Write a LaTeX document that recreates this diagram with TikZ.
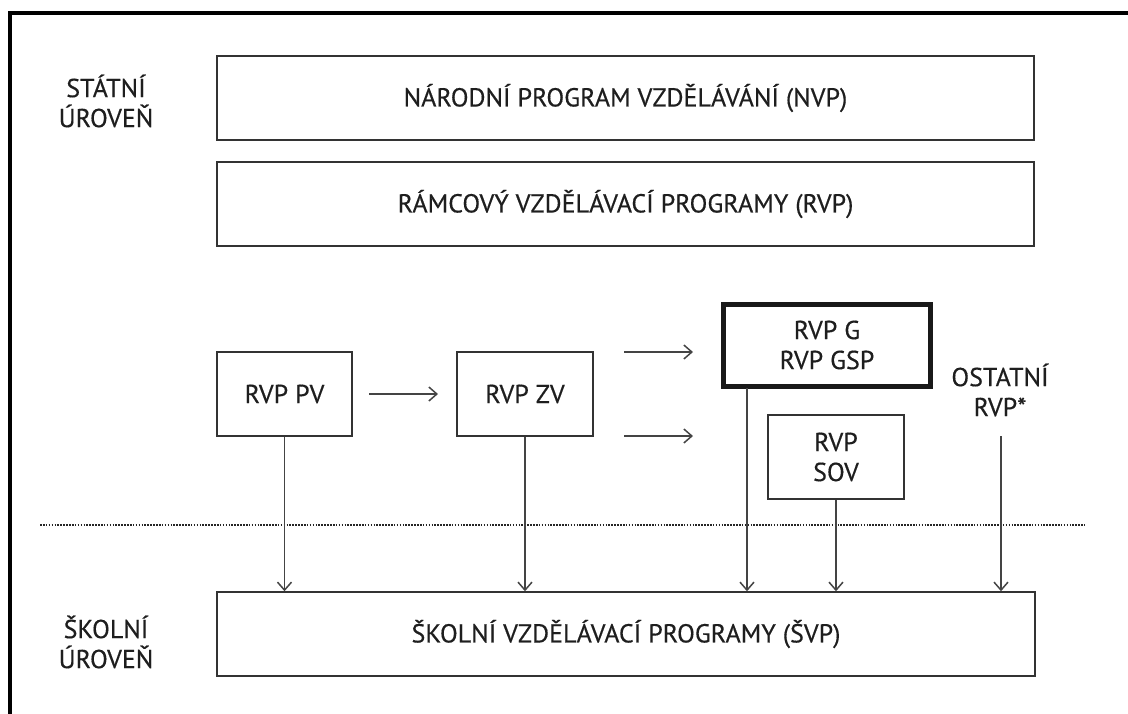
\documentclass[tikz,border=0pt]{standalone}
\usepackage{fontspec}
\setmainfont{PT Sans}[UprightFeatures={FakeBold=0.4}]
\usetikzlibrary{arrows.meta}
\definecolor{ink}{HTML}{1E1E1E}
\definecolor{rule}{HTML}{333333}
\definecolor{conn}{HTML}{444444}
\begin{document}
\begin{tikzpicture}[x=1pt,y=-1pt,
  every node/.style={font=\fontsize{26}{30}\selectfont, text=ink, align=center, inner sep=0pt},
  box/.style={draw=rule, line width=1.5pt, rectangle},
  thickbox/.style={draw=black!90, line width=5pt, rectangle},
  label/.style={},
  conn/.style={draw=conn, line width=1.5pt, -{Straight Barb[length=8pt,width=14pt,line width=1.5pt]}}
]
\useasboundingbox (0,0) rectangle (1128,713);
\clip (0,0) rectangle (1128,713);

% outer frame (left and top edges)
\draw[line width=4pt, line join=miter] (9.5,720) -- (9.5,12.5) -- (1140,12.5);

% level labels
\node[label] (state) at (106,101) {STÁTNÍ\\ÚROVEŇ};
\node[label] (school) at (106,642) {ŠKOLNÍ\\ÚROVEŇ};

% national level boxes
\node[box, minimum width=817pt, minimum height=84pt] (nvp) at (625.5,98) {NÁRODNÍ PROGRAM VZDĚLÁVÁNÍ (NVP)};
\node[box, minimum width=817pt, minimum height=84pt] (rvp) at (625.5,204) {RÁMCOVÝ VZDĚLÁVACÍ PROGRAMY (RVP)};

% framework programmes
\node[box, minimum width=135pt, minimum height=84pt] (pv) at (284.5,394) {RVP PV};
\node[box, minimum width=136pt, minimum height=84pt] (zv) at (525,394) {RVP ZV};
\node[thickbox, minimum width=207pt, minimum height=82pt] (g) at (827,345) {RVP G\\RVP GSP};
\node[box, minimum width=136pt, minimum height=84pt] (sov) at (836,457) {RVP\\SOV};
\node[label] (ost) at (1000,390) {OSTATNÍ\\RVP*};

% school level box
\node[box, minimum width=818pt, minimum height=84pt] (svp) at (626,634) {ŠKOLNÍ VZDĚLÁVACÍ PROGRAMY (ŠVP)};

% boundary between the levels
\draw[black!85, line width=1.8pt, dash pattern=on 1.6pt off 1.3pt] (40,525) -- (1085,525);

% horizontal arrows
\coordinate (zvA1) at (624,352);
\coordinate (zvB1) at (693,352);
\coordinate (zvA2) at (624,436);
\coordinate (zvB2) at (693,436);
\draw[conn] (369,394) -- (438,394);
\draw[conn] (zvA1) -- (zvB1);
\draw[conn] (zvA2) -- (zvB2);

% arrows down to the school programmes
\draw[conn] (pv.south) -- (pv.south |- svp.north);
\draw[conn] (zv.south) -- (zv.south |- svp.north);
\coordinate (gfoot) at (747,388);
\draw[conn] (gfoot) -- (gfoot |- svp.north);
\draw[conn] (sov.south) -- (sov.south |- svp.north);
\coordinate (ostfoot) at (1001,436);
\draw[conn] (ostfoot) -- (ostfoot |- svp.north);
\end{tikzpicture}
\end{document}
